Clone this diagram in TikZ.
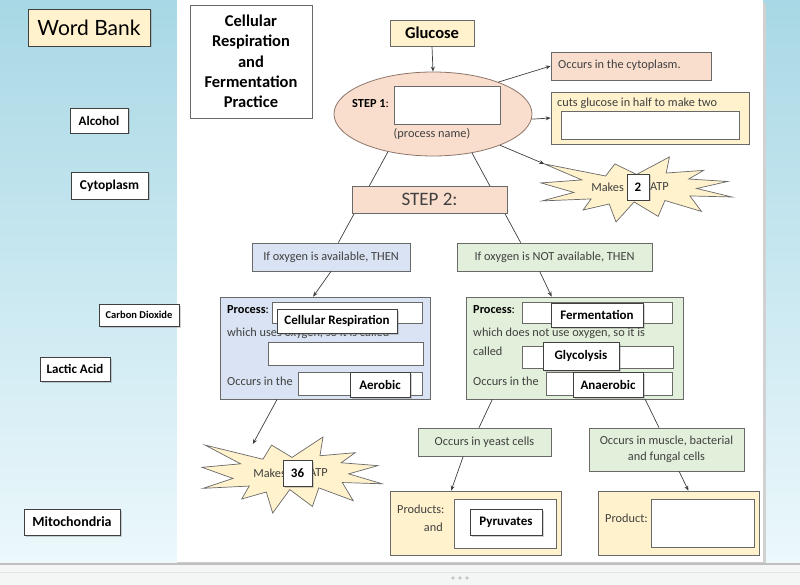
\documentclass[tikz,border=0pt]{standalone}
\usepackage{fontspec}
\setmainfont{Carlito}
\newfontfamily\bankfont{Lato}
\usetikzlibrary{arrows.meta,shadows,shapes.geometric}
\definecolor{panelblue}{RGB}{168,216,229}
\definecolor{panelpale}{RGB}{236,248,252}
\definecolor{notegold}{RGB}{255,242,204}
\definecolor{stepsalmon}{RGB}{249,222,206}
\definecolor{oxyblue}{RGB}{218,227,243}
\definecolor{oxygreen}{RGB}{226,239,218}
\definecolor{edgegray}{RGB}{105,105,105}
\definecolor{ovaledge}{RGB}{140,118,105}
\definecolor{textgray}{RGB}{64,64,64}
\definecolor{stripgray}{RGB}{244,246,246}
\newcommand\bodyfont{\fontsize{12.3}{15.5}\selectfont}
\newcommand\chipfont{\fontsize{13}{15}\selectfont\bfseries}

\tikzset{
  box/.style={draw=edgegray, line width=0.7pt, inner sep=0pt, font=\bodyfont, text=textgray},
  blank/.style={draw=edgegray, fill=white, line width=0.7pt, inner sep=0pt},
  chip/.style={draw=black!75, fill=white, line width=0.8pt, inner sep=0pt, font=\chipfont, text=black,
    drop shadow={shadow xshift=1.5pt, shadow yshift=-1.5pt, opacity=0.35}},
  txt/.style={inner sep=0pt, font=\bodyfont, text=textgray},
  link/.style={draw=black!75, line width=0.7pt},
  arrow/.style={link, -{Stealth[length=5pt,width=4pt]}},
  burst/.pic={
    \draw[draw=edgegray, fill=notegold, line width=0.7pt]
      (108,58) -- (145.22,0) -- (141.55,53.25) -- (183.8,44.57) -- (167.02,73.15)
      -- (210.97,81.37) -- (176.07,104.75) -- (216,132.9) -- (168.37,129.42)
      -- (181.45,180.95) -- (140.2,144.57) -- (132.47,197.37) -- (105.32,149.35)
      -- (84.85,216) -- (77.15,156.27) -- (47.62,176.17) -- (56.67,139.37)
      -- (1.35,145.87) -- (37.22,117.75) -- (0,86.15) -- (46.27,76.17)
      -- (3.7,22.95) -- (73.12,63.2) -- (83.52,22.95) -- cycle;
    \coordinate (-tip) at (3.7,22.95);
    \coordinate (-inner) at (61,20);
  }
}

\begin{document}
\begin{tikzpicture}[x=1pt, y=-1pt]
  \useasboundingbox (0,0) rectangle (800,585);

  % Background panels
  \shade[top color=panelblue, bottom color=panelpale] (0,0) rectangle (177,563);
  \shade[top color=panelblue, bottom color=panelpale] (763,0) rectangle (800,563);
  \fill[black!18] (763,3) rectangle (766,564);
  \fill[white] (177,0) rectangle (763,562);
  \draw[black!20] (177,562) -- (763,562);
  \fill[stripgray] (0,563) rectangle (800,585);
  \draw[black!25, line width=1.5pt] (0,564) -- (800,564);
  \draw[black!10] (0,572) -- (800,572);
  \foreach \dx in {453,460,467}
    \fill[black!22] (\dx,578) circle (1.8);

  % Word bank
  \node[chip, fill=notegold, minimum width=122, minimum height=37,
        font=\bankfont\fontsize{21}{21}\selectfont] (wordbank) at (89,27.5) {Word Bank};
  \foreach \nm/\word/\cx/\cy/\w/\h/\fs in {alcohol/Alcohol/99/120.5/58/25/13,
      cytoplasm/Cytoplasm/109.5/185.5/77/27/13.5, carbon/Carbon Dioxide/139/315/80/22/10.5,
      lactic/Lactic Acid/75/369/70/24/13, mito/Mitochondria/72/522/96/26/14}
    \node[chip, minimum width=\w, minimum height=\h,
          font=\fontsize{\fs}{\fs}\selectfont\bfseries] (\nm) at (\cx,\cy) {\word};

  % Title
  \node[box, fill=white, minimum width=122, minimum height=113, align=center, text=black,
        font=\fontsize{16.5}{20.3}\selectfont\bfseries] (title) at (251,61.5)
        {Cellular\\Respiration\\and\\Fermentation\\Practice};

  % Step 1
  \node[box, fill=notegold, minimum width=84, minimum height=26, text=black,
        font=\fontsize{16.5}{18}\selectfont\bfseries] (glucose) at (432,33) {Glucose};
  \node[ellipse, draw=ovaledge, fill=stepsalmon, line width=0.8pt, minimum width=198,
        minimum height=84, inner sep=0pt] (step1) at (433,114) {};
  \node[txt, anchor=west, text=black] (step1lbl) at (352,104) {\textbf{STEP 1}:};
  \node[blank, minimum width=106, minimum height=38] (step1ans) at (447,105) {};
  \node[txt] (procname) at (432,134) {(process name)};

  \node[box, fill=stepsalmon, minimum width=160, minimum height=28] (cyto) at (631,66) {};
  \node[txt, anchor=west] (cytotext) at (558,65) {Occurs in the cytoplasm.};
  \node[box, fill=notegold, minimum width=198, minimum height=52] (cuts) at (650,118) {};
  \node[txt, anchor=west] (cutstext) at (557,103) {cuts glucose in half to make two};
  \node[blank, minimum width=178, minimum height=28] (cutsans) at (650,125) {};

  \pic[xscale=0.8843, yscale=0.3009] (burstA) at (541,157) {burst};
  \node[txt, anchor=east] (makesA) at (624,187) {Makes};
  \node[txt, anchor=west] (atpA) at (650,187) {ATP};
  \node[chip, minimum width=22, minimum height=26] (twoatp) at (638,187) {2};

  \draw[arrow] (glucose.south) -- (step1.north);
  \draw[arrow] (step1.26) -- (cyto.west);
  \draw[arrow] (step1.-3) -- (cuts.west);
  \draw[arrow] (step1.-25) -- (burstA-tip);

  % Step 2
  \node[box, fill=oxyblue, minimum width=158, minimum height=28] (ifyes) at (331,257)
        {If oxygen is available, THEN};
  \node[box, fill=oxygreen, minimum width=195, minimum height=28] (ifno) at (554.5,257)
        {If oxygen is NOT available, THEN};
  \draw[link] (step1.-140) -- (ifyes.63);
  \draw[link] (step1.-45) -- (ifno.157);
  \node[box, fill=stepsalmon, minimum width=155, minimum height=27,
        font=\fontsize{19}{20}\selectfont] (step2) at (429.5,199.5) {STEP 2:};

  % Aerobic side
  \node[box, fill=oxyblue, minimum width=210, minimum height=102] (procA) at (325,348) {};
  \node[txt, anchor=west, text=black] (procAlbl) at (227,310) {\textbf{Process}:};
  \node[blank, minimum width=150, minimum height=21] (procAans) at (347,312.5) {};
  \node[txt, anchor=west] (usesoxy) at (227,333) {which uses oxygen, so it is called};
  \node[blank, minimum width=155, minimum height=23] (calledA) at (345.5,353.5) {};
  \node[txt, anchor=west] (occursA) at (227,381) {Occurs in the};
  \node[blank, minimum width=124, minimum height=23] (placeA) at (360,383.5) {};
  \node[chip, minimum width=120, minimum height=24] (cellresp) at (337,321) {Cellular Respiration};
  \node[chip, minimum width=60, minimum height=25] (aerobic) at (380,384.5) {Aerobic};

  \pic[xscale=0.8333, yscale=0.3519] (burstB) at (202,437) {burst};
  \node[txt, anchor=east] (makesB) at (286,473) {Makes};
  \node[txt, anchor=west] (atpB) at (309,473) {ATP};
  \node[chip, minimum width=29, minimum height=26] (thirtysix) at (297.5,473) {36};

  \draw[arrow] (ifyes.south) -- (procA.103);
  \draw[arrow] (procA.-133) -- (burstB-inner);

  % Anaerobic side
  \node[box, fill=oxygreen, minimum width=217, minimum height=102] (procB) at (574.5,348) {};
  \node[txt, anchor=west, text=black] (procBlbl) at (473,310) {\textbf{Process}:};
  \node[blank, minimum width=150, minimum height=21] (procBans) at (597,312.5) {};
  \node[txt, anchor=west] (nooxy) at (473,333) {which does not use oxygen, so it is};
  \node[txt, anchor=west] (calledtxt) at (473,351) {called};
  \node[blank, minimum width=151, minimum height=22] (calledB) at (597.5,357) {};
  \node[txt, anchor=west] (occursB) at (473,381) {Occurs in the};
  \node[blank, minimum width=126, minimum height=23] (placeB) at (609,383.5) {};
  \node[chip, minimum width=92, minimum height=24] (ferment) at (597,315) {Fermentation};
  \node[chip, minimum width=76, minimum height=28] (glyco) at (581,356) {Glycolysis};
  \node[chip, minimum width=70, minimum height=25] (anaerobic) at (608,384.5) {Anaerobic};

  \draw[arrow] (ifno.-136) -- (procB.114);

  \node[box, fill=oxygreen, minimum width=133, minimum height=28] (yeast) at (484.5,442)
        {Occurs in yeast cells};
  \node[box, fill=oxygreen, minimum width=155, minimum height=43, align=center] (muscle)
        at (666.5,449.5) {Occurs in muscle, bacterial\\and fungal cells};
  \draw[link] (procB.-148) -- (yeast.111);
  \draw[link] (procB.-36) -- (muscle.109);

  % Products
  \node[box, fill=notegold, minimum width=171, minimum height=64] (prods) at (475.5,523) {};
  \node[txt, anchor=west] (prodslbl) at (397,509) {Products:};
  \node[txt, anchor=east] (andlbl) at (443,527) {and};
  \node[blank, minimum width=102, minimum height=49] (prodsans) at (505,523.5) {};
  \node[chip, minimum width=72, minimum height=26] (pyruv) at (506,522) {Pyruvates};

  \node[box, fill=notegold, minimum width=161, minimum height=64] (prod) at (678.5,523) {};
  \node[txt, anchor=west] (prodlbl) at (605,518) {Product:};
  \node[blank, minimum width=103, minimum height=48] (prodans) at (702.5,523) {};

  \draw[arrow] (yeast.-146) -- (prods.127);
  \draw[arrow] (muscle.-60) -- (prod.73);
\end{tikzpicture}
\end{document}
